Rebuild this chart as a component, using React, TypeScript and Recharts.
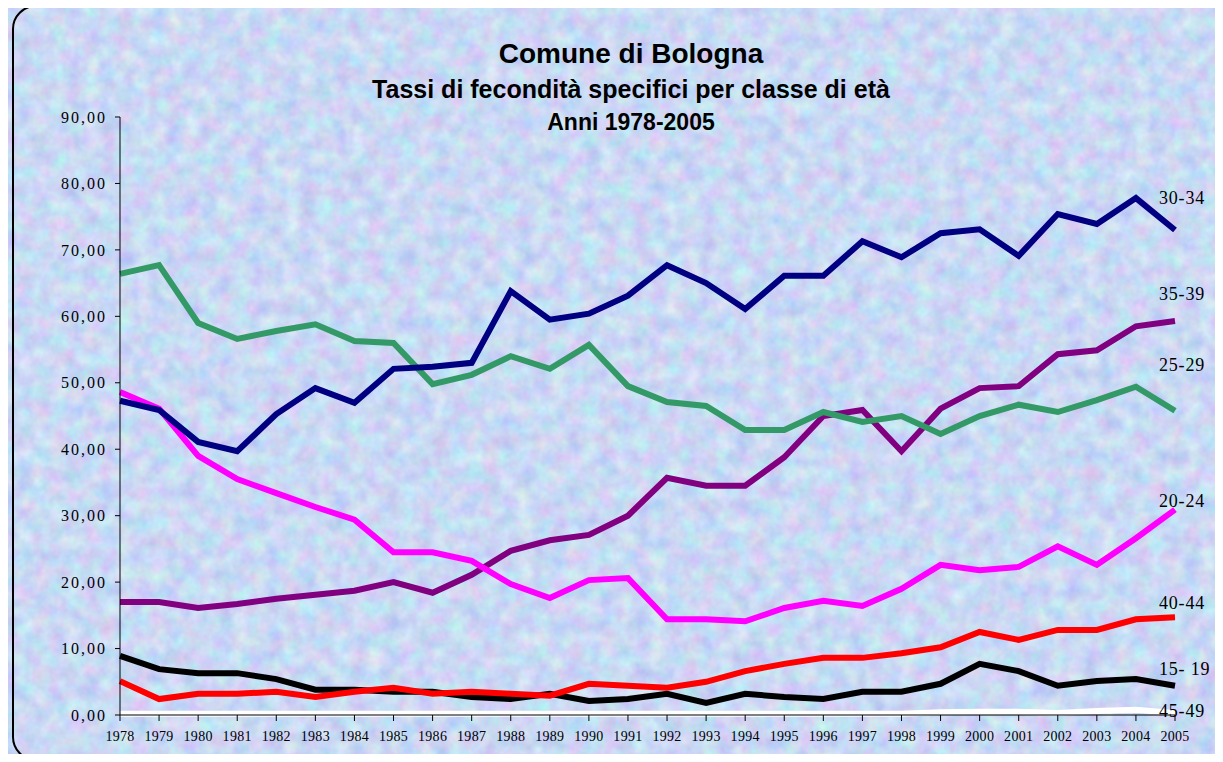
import { LineChart, Line, XAxis, YAxis, LabelList } from 'recharts';

const years = [
  1978, 1979, 1980, 1981, 1982, 1983, 1984, 1985, 1986, 1987, 1988, 1989, 1990, 1991,
  1992, 1993, 1994, 1995, 1996, 1997, 1998, 1999, 2000, 2001, 2002, 2003, 2004, 2005,
];

const age15_19 = [8.9, 6.9, 6.3, 6.3, 5.4, 3.8, 3.8, 3.5, 3.5, 2.7, 2.4, 3.2, 2.1, 2.4, 3.2, 1.8, 3.2, 2.7, 2.4, 3.5, 3.5, 4.7, 7.7, 6.6, 4.4, 5.1, 5.4, 4.4];
const age20_24 = [48.6, 46.1, 39.0, 35.5, 33.4, 31.3, 29.4, 24.5, 24.5, 23.2, 19.7, 17.6, 20.3, 20.6, 14.4, 14.4, 14.1, 16.1, 17.2, 16.4, 19.0, 22.6, 21.8, 22.3, 25.4, 22.6, 26.6, 30.9];
const age25_29 = [66.4, 67.7, 59.0, 56.6, 57.8, 58.8, 56.3, 56.0, 49.8, 51.2, 54.0, 52.1, 55.7, 49.5, 47.1, 46.5, 42.9, 42.9, 45.6, 44.1, 45.0, 42.3, 45.0, 46.7, 45.6, 47.4, 49.4, 45.8];
const age30_34 = [47.3, 45.9, 41.1, 39.7, 45.3, 49.2, 47.0, 52.1, 52.4, 53.0, 63.8, 59.5, 60.4, 63.1, 67.7, 65.0, 61.1, 66.1, 66.1, 71.3, 68.9, 72.5, 73.1, 69.1, 75.4, 73.9, 77.8, 73.0];
const age35_39 = [17.0, 17.0, 16.1, 16.7, 17.5, 18.1, 18.7, 20.0, 18.4, 21.1, 24.7, 26.3, 27.1, 30.0, 35.7, 34.5, 34.5, 38.8, 45.0, 45.9, 39.7, 46.1, 49.2, 49.5, 54.3, 54.9, 58.5, 59.3];
const age40_44 = [5.1, 2.4, 3.2, 3.2, 3.5, 2.7, 3.5, 4.1, 3.2, 3.5, 3.2, 2.9, 4.7, 4.4, 4.1, 5.0, 6.6, 7.7, 8.6, 8.6, 9.3, 10.2, 12.5, 11.3, 12.8, 12.8, 14.4, 14.7];
const age45_49 = [0.2, 0.2, 0.2, 0.2, 0.2, 0.2, 0.2, 0.2, 0.2, 0.2, 0.2, 0.2, 0.2, 0.2, 0.2, 0.2, 0.2, 0.2, 0.2, 0.2, 0.2, 0.4, 0.5, 0.5, 0.3, 0.6, 0.8, 0.3];

const yTicks = [0, 10, 20, 30, 40, 50, 60, 70, 80, 90];

const data = years.map((year, i) => ({
  year,
  a15: age15_19[i],
  a20: age20_24[i],
  a25: age25_29[i],
  a30: age30_34[i],
  a35: age35_39[i],
  a40: age40_44[i],
  a45: age45_49[i],
}));

// drawing order: last one on top
const series = [
  { key: 'a15', label: '15- 19', color: '#000000', dy: -17 },
  { key: 'a40', label: '40-44', color: '#ff0000', dy: -14 },
  { key: 'a35', label: '35-39', color: '#800080', dy: -27 },
  { key: 'a20', label: '20-24', color: '#ff00ff', dy: -9 },
  { key: 'a25', label: '25-29', color: '#339966', dy: -46 },
  { key: 'a30', label: '30-34', color: '#000080', dy: -32 },
  { key: 'a45', label: '45-49', color: '#ffffff', dy: -2 },
];

const serif = '"Liberation Serif", "DejaVu Serif", serif';
const sans = '"Liberation Sans", Arial, sans-serif';

const endLabel = (text: string, dy: number) => (props: any) => {
  const { x, y, index } = props;
  if (index !== years.length - 1) return null;
  return (
    <text
      x={x - 16}
      y={y + dy}
      dominantBaseline="central"
      fontFamily={serif}
      fontSize={18}
      letterSpacing={0.8}
      fill="#000"
    >
      {text}
    </text>
  );
};

const Texture = () => (
  <svg width={1223} height={762} style={{ position: 'absolute', left: 0, top: 0 }}>
    <filter id="mottle" x="0" y="0" width="100%" height="100%" colorInterpolationFilters="sRGB">
      <feTurbulence type="fractalNoise" baseFrequency="0.06" numOctaves={3} seed={7} />
      <feColorMatrix
        type="matrix"
        values="0.28 0 0 0 0.65  0 0.26 0 0 0.72  0 0 0.1 0 0.905  0 0 0 0 1"
      />
    </filter>
    <rect width={1223} height={762} filter="url(#mottle)" />
  </svg>
);

export default function App() {
  return (
    <div
      style={{
        margin: -8,
        width: 1223,
        height: 762,
        position: 'relative',
        overflow: 'hidden',
        background: '#c6d4f5',
      }}
    >
      <Texture />
      <div
        style={{
          position: 'absolute',
          left: 12,
          top: 5,
          width: 1240,
          height: 756,
          border: '2.5px solid #000',
          borderRadius: 24,
          boxSizing: 'border-box',
        }}
      />
      <div style={{ position: 'absolute', left: 0, top: 36, width: 1262, textAlign: 'center', fontFamily: sans, fontWeight: 'bold', color: '#000' }}>
        <div style={{ fontSize: 28, lineHeight: '36px' }}>Comune di Bologna</div>
        <div style={{ fontSize: 25, lineHeight: '34px' }}>Tassi di fecondità specifici per classe di età</div>
        <div style={{ fontSize: 23, lineHeight: '32px' }}>Anni 1978-2005</div>
      </div>
      <div style={{ position: 'absolute', left: 0, top: 0 }}>
        <LineChart
          width={1223}
          height={762}
          data={data}
          margin={{ top: 117, right: 48, left: 60, bottom: 17 }}
        >
          <XAxis
            dataKey="year"
            stroke="#000"
            tickLine={{ stroke: '#000' }}
            tickSize={6}
            tick={{ fill: '#000', fontFamily: serif, fontSize: 14, letterSpacing: 0.3 }}
            tickMargin={10}
            interval={0}
          />
          <YAxis
            domain={[0, 90]}
            ticks={yTicks}
            width={60}
            stroke="#000"
            tickSize={5}
            tickMargin={8}
            tick={{ fill: '#000', fontFamily: serif, fontSize: 16, letterSpacing: 2 }}
            tickFormatter={(v: number) => v.toFixed(2).replace('.', ',')}
          />
          {series.map((s) => (
            <Line
              key={s.key}
              dataKey={s.key}
              type="linear"
              stroke={s.color}
              strokeWidth={6}
              dot={false}
              isAnimationActive={false}
            >
              <LabelList dataKey={s.key} content={endLabel(s.label, s.dy)} />
            </Line>
          ))}
        </LineChart>
      </div>
    </div>
  );
}
